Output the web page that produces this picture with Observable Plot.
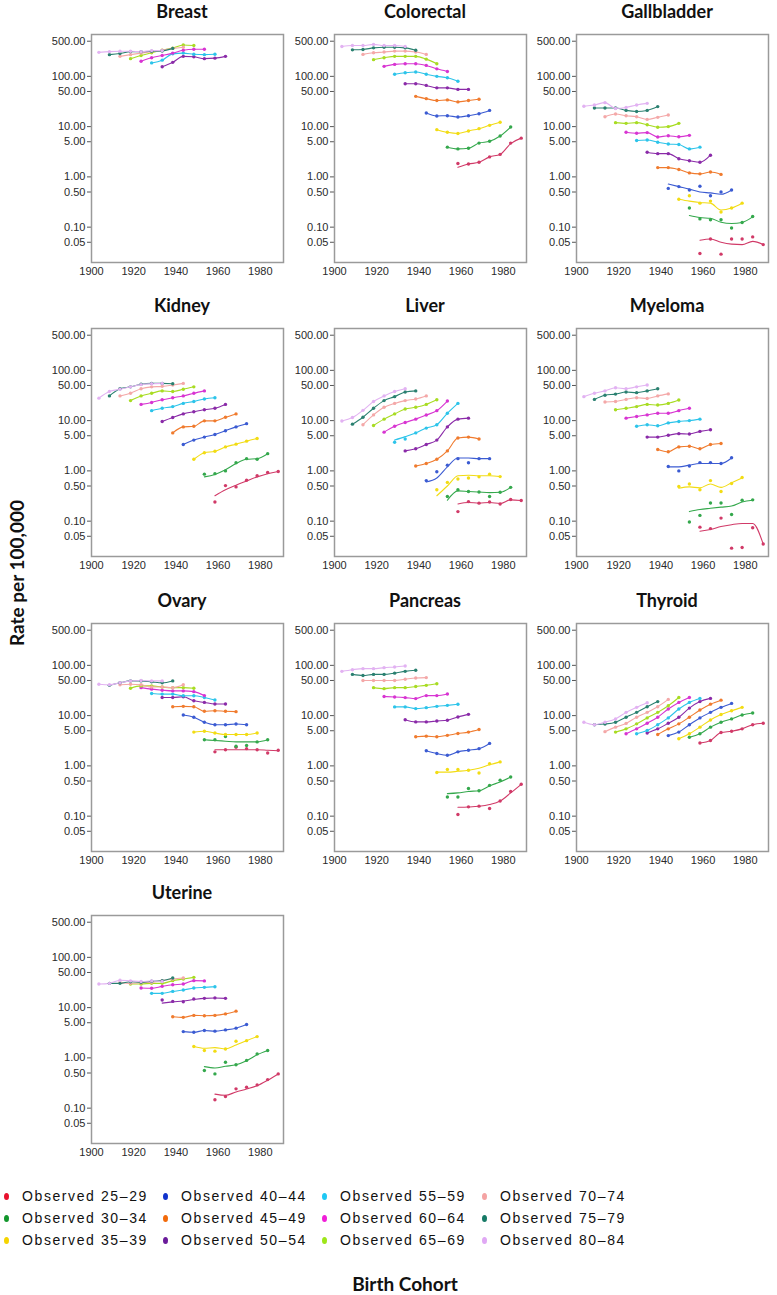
<!DOCTYPE html>
<html>
<head>
<meta charset="utf-8">
<script src="https://cdn.jsdelivr.net/npm/d3@7"></script>
<script src="https://cdn.jsdelivr.net/npm/@observablehq/plot@0.6"></script>
<style>
  body { margin: 0; background: #fff; }
  #chart { position: relative; width: 777px; height: 1295px; overflow: hidden; background: #fff;
           font-family: "Liberation Sans", Arial, sans-serif; }
  .panel { position: absolute; }
  .title { position: absolute; width: 220px; text-align: center; font-family: Lato, sans-serif;
           font-weight: 700; font-size: 18px; line-height: 14px; color: #111; white-space: nowrap; }
  .ytitle { position: absolute; width: 240px; text-align: center; font-family: Lato, sans-serif;
            font-weight: 700; font-size: 19px; line-height: 20px; color: #111; transform: rotate(-90deg);
            white-space: nowrap; }
  .xtitle { position: absolute; width: 240px; text-align: center; font-family: Lato, sans-serif;
            font-weight: 700; font-size: 19px; line-height: 20px; color: #111; white-space: nowrap; }
  .leg { position: absolute; font-family: "Liberation Sans", Arial, sans-serif; font-size: 14px;
         letter-spacing: 1.6px; line-height: 16px; color: #111; white-space: nowrap; }
  .legdot { position: absolute; width: 5px; height: 7px; border-radius: 50%; }
</style>
</head>
<body>
<div id="chart"></div>
<script>
// ---------- data ----------
const ageGroups = ["25–29","30–34","35–39","40–44","45–49","50–54","55–59","60–64","65–69","70–74","75–79","80–84"];
const cohorts = [1903.5,1908.5,1913.5,1918.5,1923.5,1928.5,1933.5,1938.5,1943.5,1948.5,1953.5,1958.5,1963.5,1968.5,1973.5,1978.5,1983.5,1988.5];
const cancers = ["Breast","Colorectal","Gallbladder","Kidney","Liver","Myeloma","Ovary","Pancreas","Thyroid","Uterine"];
const xTicks = [1900, 1920, 1940, 1960, 1980];
const yTicks = [500, 100, 50, 10, 5, 1, 0.5, 0.1, 0.05];

// observed rates per age group (25–29 first), 7 consecutive birth cohorts each
const breastObs = [null, null, null, null, null,
  [155, 190, 250, 245, 225, 230, 250],
  [185, 210, 280, 290, 275, 270, 275],
  [200, 235, 260, 290, 330, 345, 345],
  [225, 260, 295, 330, 365, 420, 410],
  [250, 270, 290, 310, 330, 360, 380],
  [270, 285, 310, 310, 315, 320, 360],
  [300, 310, 315, 315, 310, 325, 325]];
const breastFit = {};

const colorectalObs = [
  [1.85, 1.8, 1.95, 2.5, 2.8, 4.7, 5.9],
  [3.9, 3.6, 3.7, 4.7, 5.1, 6.5, 9.8],
  [8.7, 7.7, 7.3, 8.2, 9.1, 10.6, 12.2],
  [18.7, 16.3, 16.5, 15.5, 16.5, 18, 21],
  [40, 36, 33, 34, 31, 33, 35],
  [71, 71, 66, 59, 59, 55, 55],
  [110, 118, 122, 110, 100, 94, 80],
  [158, 173, 178, 178, 165, 141, 125],
  [215, 234, 250, 250, 250, 220, 178],
  [273, 294, 304, 318, 318, 304, 273],
  [337, 342, 369, 380, 380, 369, 330],
  [393, 412, 412, 432, 412, 412, 393]];
const colorectalFit = {0: [1.55, 1.8, 1.95, 2.5, 2.8, 4.6, 5.9]};

const gallbladderObs = [
  [0.03, 0.058, 0.029, 0.058, 0.058, 0.064, 0.045],
  [0.24, 0.146, 0.14, 0.14, 0.096, 0.124, 0.163],
  [0.36, 0.42, 0.3, 0.33, 0.2, 0.24, 0.3],
  [0.59, 0.64, 0.55, 0.65, 0.42, 0.5, 0.55],
  [1.53, 1.53, 1.4, 1.2, 1.15, 1.25, 1.12],
  [3.1, 2.9, 2.9, 2.3, 2.1, 1.95, 2.7],
  [5.3, 5.4, 4.9, 4.5, 4.4, 3.6, 3.9],
  [7.7, 7.4, 7.6, 6.2, 6.6, 6.3, 6.7],
  [12, 11.6, 12, 10.9, 9.7, 10, 11.6],
  [15.7, 17.8, 16.5, 15.7, 13.9, 15.3, 17],
  [23.4, 23.4, 23.4, 21, 20, 21, 25],
  [25.5, 27, 30, 23, 24, 27, 29]];
const gallbladderFit = {
  0: [0.055, 0.058, 0.05, 0.046, 0.045, 0.052, 0.045],
  1: [0.17, 0.155, 0.15, 0.125, 0.118, 0.124, 0.16],
  2: [0.36, 0.33, 0.31, 0.3, 0.22, 0.24, 0.3],
  3: [0.72, 0.64, 0.57, 0.5, 0.48, 0.45, 0.55]};

const kidneyObs = [
  [0.24, 0.51, 0.48, 0.65, 0.8, 0.93, 0.97],
  [0.86, 0.88, 1.0, 1.45, 1.75, 1.7, 2.2],
  [1.7, 2.3, 2.45, 3.0, 3.4, 3.9, 4.4],
  [3.35, 4.1, 4.7, 5.3, 6.3, 7.5, 8.7],
  [5.7, 7.5, 7.7, 9.9, 9.9, 11.7, 13.6],
  [9.6, 11.5, 13.6, 15, 16.4, 17.6, 21],
  [15.8, 17.6, 19, 22, 24, 27, 28.5],
  [21, 23, 26, 28.5, 31, 35, 39],
  [25, 31, 35, 39, 38, 42, 47],
  [31, 35, 43, 47, 48, 51, 55],
  [31, 43, 47, 53, 55, 55, 54],
  [28, 38, 42, 47, 52, 54, 55]];
const kidneyFit = {
  0: [0.32, 0.42, 0.52, 0.63, 0.76, 0.88, 0.97],
  1: [0.76, 0.85, 1.05, 1.4, 1.7, 1.75, 2.2]};

const liverObs = [
  [0.155, 0.245, 0.228, 0.24, 0.22, 0.27, 0.257],
  [0.31, 0.42, 0.39, 0.38, 0.31, 0.375, 0.47],
  [0.42, 0.59, 0.69, 0.72, 0.76, 0.86, 0.77],
  [0.64, 0.96, 1.3, 1.75, 1.45, 1.75, 1.75],
  [1.25, 1.4, 1.7, 2.5, 4.5, 4.7, 4.3],
  [2.5, 2.75, 3.35, 4.1, 7.5, 10.7, 11.2],
  [3.7, 4.3, 5.7, 7.1, 8.3, 14, 22],
  [5.9, 7.7, 9.2, 10.7, 12.9, 15.8, 24.5],
  [8, 10.7, 13.6, 17, 18.4, 21, 26],
  [8.3, 13, 18.4, 22, 25, 27, 31],
  [8.5, 11.7, 17.6, 25, 30, 37, 39],
  [9.8, 11.5, 16, 24, 31, 38, 43]];
const liverFit = {
  0: [0.22, 0.235, 0.23, 0.235, 0.225, 0.265, 0.257],
  1: [0.26, 0.4, 0.39, 0.38, 0.37, 0.375, 0.47],
  2: [0.32, 0.5, 0.8, 0.82, 0.8, 0.8, 0.77],
  3: [0.6, 0.72, 1.2, 1.8, 1.8, 1.75, 1.75],
  6: [4.1, 4.8, 5.7, 7.1, 8.3, 14, 22]};

const myelomaObs = [
  [0.076, 0.071, 0.115, 0.029, 0.03, 0.074, 0.035],
  [0.096, 0.13, 0.23, 0.23, 0.136, 0.26, 0.265],
  [0.49, 0.55, 0.42, 0.64, 0.39, 0.56, 0.74],
  [1.22, 1.0, 1.25, 1.46, 1.46, 1.4, 1.83],
  [2.67, 2.4, 3.0, 3.1, 2.75, 3.35, 3.5],
  [4.7, 4.7, 5.1, 5.5, 5.4, 6.1, 6.6],
  [7.7, 8.3, 7.9, 9, 9.6, 10, 10.7],
  [11.2, 12.1, 13, 14, 14, 15.8, 17.6],
  [16.4, 17.6, 19, 21, 20.4, 22, 25.7],
  [23.4, 24, 26.4, 28.5, 27.6, 31, 34],
  [26.4, 32, 33.7, 37, 36, 39, 43],
  [30, 35, 39, 45, 43, 47, 51]];
const myelomaFit = {
  0: [0.063, 0.068, 0.078, 0.085, 0.09, 0.09, 0.035],
  1: [0.155, 0.17, 0.18, 0.19, 0.2, 0.24, 0.26],
  2: [0.45, 0.48, 0.46, 0.55, 0.47, 0.58, 0.72],
  3: [1.2, 1.2, 1.3, 1.4, 1.4, 1.4, 1.8]};

const ovaryObs = [
  [1.9, 2.1, 2.35, 2.2, 2.1, 1.8, 2.05],
  [3.3, 3.3, 3.85, 2.45, 2.55, 3.0, 3.3],
  [4.7, 4.9, 4.5, 4.2, 4.2, 4.2, 4.5],
  [10.3, 9.3, 7.4, 6.6, 6.6, 6.8, 6.6],
  [15, 15.3, 15, 12.2, 12.5, 12.2, 12],
  [23, 23, 23.7, 19.7, 18.3, 17, 17],
  [27.5, 26.8, 26.8, 24.8, 24.8, 23, 20.4],
  [36, 33.6, 32, 31, 31, 30, 25],
  [35, 39, 39, 37, 36, 36, 35],
  [41, 42, 41, 37, 37, 36, 41],
  [40, 45, 49, 49, 47, 45, 49],
  [42, 41, 45, 49, 50, 49, 49]];
const ovaryFit = {
  0: [2.1, 2.1, 2.1, 2.1, 2.1, 2.05, 2.0],
  1: [3.3, 3.2, 3.1, 3.0, 3.0, 3.0, 3.3]};

const pancreasObs = [
  [0.108, 0.153, 0.158, 0.142, 0.2, 0.31, 0.43],
  [0.24, 0.24, 0.355, 0.32, 0.41, 0.52, 0.6],
  [0.74, 0.85, 0.85, 0.82, 0.72, 1.1, 1.2],
  [2.0, 1.76, 1.63, 1.9, 2.05, 2.2, 2.8],
  [3.8, 3.9, 3.8, 4.05, 4.4, 4.7, 5.3],
  [8.3, 7.5, 7.5, 7.8, 8.1, 9.4, 10.6],
  [14.9, 14.9, 13.8, 14.4, 15.3, 16, 16.8],
  [24, 23.5, 22.8, 21.8, 25, 25, 27],
  [36, 34.4, 36, 36, 38, 40, 43],
  [50, 50, 50, 50, 53, 56, 57],
  [66, 63, 66, 66, 70, 76, 80],
  [76, 82, 86, 86, 90, 93, 97]];
const pancreasFit = {
  0: [0.15, 0.152, 0.157, 0.17, 0.2, 0.29, 0.43],
  1: [0.28, 0.29, 0.31, 0.32, 0.4, 0.48, 0.6],
  2: [0.75, 0.75, 0.78, 0.82, 0.9, 1.05, 1.2]};

const thyroidObs = [
  [2.85, 3.2, 4.6, 4.9, 5.45, 6.6, 7.05],
  [3.7, 4.35, 5.9, 7.4, 8.6, 10.3, 11.3],
  [3.46, 4.35, 5.9, 8.2, 10.5, 12.5, 14.6],
  [4.0, 4.7, 6.6, 9.0, 11.6, 14.6, 17.5],
  [4.2, 5.45, 6.85, 9.3, 12.9, 16.9, 20.3],
  [4.5, 5.45, 7.05, 9.3, 14.1, 19, 22],
  [4.35, 5.05, 6.6, 9.0, 13.5, 18.3, 22],
  [4.35, 5.45, 7.05, 9.3, 13.5, 18.3, 23],
  [4.7, 5.45, 6.85, 9, 11.6, 15.7, 23],
  [4.8, 5.9, 7.0, 9.3, 11.6, 15, 21],
  [6.6, 6.8, 7.4, 9.3, 11.6, 15, 19],
  [7.4, 6.6, 7.4, 8.6, 11.6, 14.6, 18]];
const thyroidFit = {};

const uterineObs = [
  [0.147, 0.171, 0.242, 0.26, 0.29, 0.37, 0.48],
  [0.56, 0.48, 0.82, 0.73, 0.89, 1.2, 1.4],
  [1.68, 1.4, 1.36, 1.5, 2.14, 2.2, 2.65],
  [3.33, 3.23, 3.5, 3.4, 3.6, 3.9, 4.6],
  [6.6, 6.4, 7.0, 6.9, 7.0, 7.5, 8.5],
  [14.2, 13.3, 13.1, 14.8, 15.3, 15.6, 15.3],
  [19.2, 19.2, 21, 22.4, 24.5, 25.3, 26],
  [24.5, 24.2, 26.5, 28.5, 29.5, 34.4, 34],
  [29.5, 29.5, 30.4, 30.4, 34.4, 37, 40],
  [31.8, 30.4, 31.3, 31.8, 34.4, 37, 38.8],
  [30.4, 30.4, 32.8, 31.8, 33.4, 34.4, 38.8],
  [29.5, 30.4, 35, 34, 33, 34, 33]];
const uterineFit = {
  0: [0.19, 0.18, 0.21, 0.24, 0.28, 0.36, 0.48],
  1: [0.67, 0.63, 0.68, 0.73, 0.88, 1.15, 1.4],
  2: [1.68, 1.55, 1.6, 1.5, 1.8, 2.2, 2.65],
  5: [12.3, 13, 13.5, 14.5, 15.3, 15.5, 15.3]};

const obsByCancer = [breastObs, colorectalObs, gallbladderObs, kidneyObs, liverObs, myelomaObs, ovaryObs, pancreasObs, thyroidObs, uterineObs];
const fitByCancer = [breastFit, colorectalFit, gallbladderFit, kidneyFit, liverFit, myelomaFit, ovaryFit, pancreasFit, thyroidFit, uterineFit];

// ---------- colours ----------
const markColors = ["#d13a68","#34a84c","#f2dc14","#3b5bd2","#f07b2e","#8a2aa8","#2cc4ea","#d834d2","#a8dc22","#f4a8a8","#2a8070","#e2b2f2"];
const legendColors = ["#e8112d","#12962c","#f5d400","#1133cc","#f26a0a","#6a1b9a","#1ec8f4","#f01ed8","#9ee619","#f4a3a3","#167a66","#e0a8f4"];

// ---------- layout ----------
const colLeft = [91, 334, 576];
const rowTop = [34, 328, 623, 915];
const FW = 192, FH = 228, ML = 50, MR = 4, MT = 4, MB = 26;
const X0 = 1900, X1 = 1991;
const tickLenYears = 4 * (X1 - X0) / FW;   // 4px tick expressed in x units
const fmtY = d3.format(".2f");

const chart = document.getElementById("chart");

cancers.forEach((name, idx) => {
  const obs = obsByCancer[idx], fit = fitByCancer[idx];
  const pts = [], lines = [];
  obs.forEach((vals, i) => {
    if (!vals) return;
    const f = fit[i] || vals;
    vals.forEach((v, k) => {
      const c = cohorts[11 - i + k];
      pts.push({cohort: c, rate: v, age: ageGroups[i]});
      lines.push({cohort: c, rate: f[k], age: ageGroups[i]});
    });
  });
  const svg = Plot.plot({
    width: ML + FW + MR, height: MT + FH + MB,
    marginLeft: ML, marginRight: MR, marginTop: MT, marginBottom: MB,
    style: {fontFamily: '"Liberation Sans", Arial, sans-serif', fontSize: "11px", color: "#2a2a2a", background: "transparent"},
    x: {domain: [X0, X1], ticks: xTicks, tickFormat: d => String(d), tickSize: 0, tickPadding: 5, label: null},
    y: {type: "log", domain: [0.0198, 680], axis: null},
    color: {domain: ageGroups, range: markColors},
    marks: [
      Plot.ruleY(yTicks, {y: d => d, x1: X0 - tickLenYears, x2: X0, stroke: "#555", strokeWidth: 1}),
      Plot.text(yTicks, {y: d => d, x: X0, text: d => fmtY(d), textAnchor: "end", dx: -6, fontSize: 11, fill: "#2a2a2a"}),
      Plot.line(lines, {x: "cohort", y: "rate", z: "age", stroke: "age", strokeWidth: 1.1, curve: "monotone-x"}),
      Plot.dot(pts, {x: "cohort", y: "rate", fill: "age", r: 1.7}),
      Plot.frame({stroke: "#9a9a9a", strokeWidth: 1.5})
    ]
  });
  const col = idx % 3, row = Math.floor(idx / 3);
  const wrap = document.createElement("div");
  wrap.className = "panel";
  wrap.style.left = (colLeft[col] - ML) + "px";
  wrap.style.top = (rowTop[row] - MT) + "px";
  wrap.appendChild(svg);
  chart.appendChild(wrap);

  const t = document.createElement("div");
  t.className = "title";
  t.textContent = name;
  t.style.left = (colLeft[col] + FW / 2 - 5 - 110) + "px";
  t.style.top = (rowTop[row] - 30) + "px";
  chart.appendChild(t);
});

// axis titles
const yt = document.createElement("div");
yt.className = "ytitle";
yt.textContent = "Rate per 100,000";
yt.style.left = (17 - 120) + "px";
yt.style.top = (573 - 10) + "px";
chart.appendChild(yt);

const xt = document.createElement("div");
xt.className = "xtitle";
xt.textContent = "Birth Cohort";
xt.style.left = (405 - 120) + "px";
xt.style.top = (1284 - 10) + "px";
chart.appendChild(xt);

// legend
const legColX = [6, 165, 324, 484];
const legRowY = [1196, 1218, 1240];
ageGroups.forEach((g, i) => {
  const c = Math.floor(i / 3), r = i % 3;
  const d = document.createElement("div");
  d.className = "legdot";
  d.style.background = legendColors[i];
  d.style.left = (legColX[c] - 2.5) + "px";
  d.style.top = (legRowY[r] - 3.5) + "px";
  chart.appendChild(d);
  const s = document.createElement("div");
  s.className = "leg";
  s.textContent = "Observed " + g;
  s.style.left = (legColX[c] + 16) + "px";
  s.style.top = (legRowY[r] - 8) + "px";
  chart.appendChild(s);
});
</script>
</body>
</html>
